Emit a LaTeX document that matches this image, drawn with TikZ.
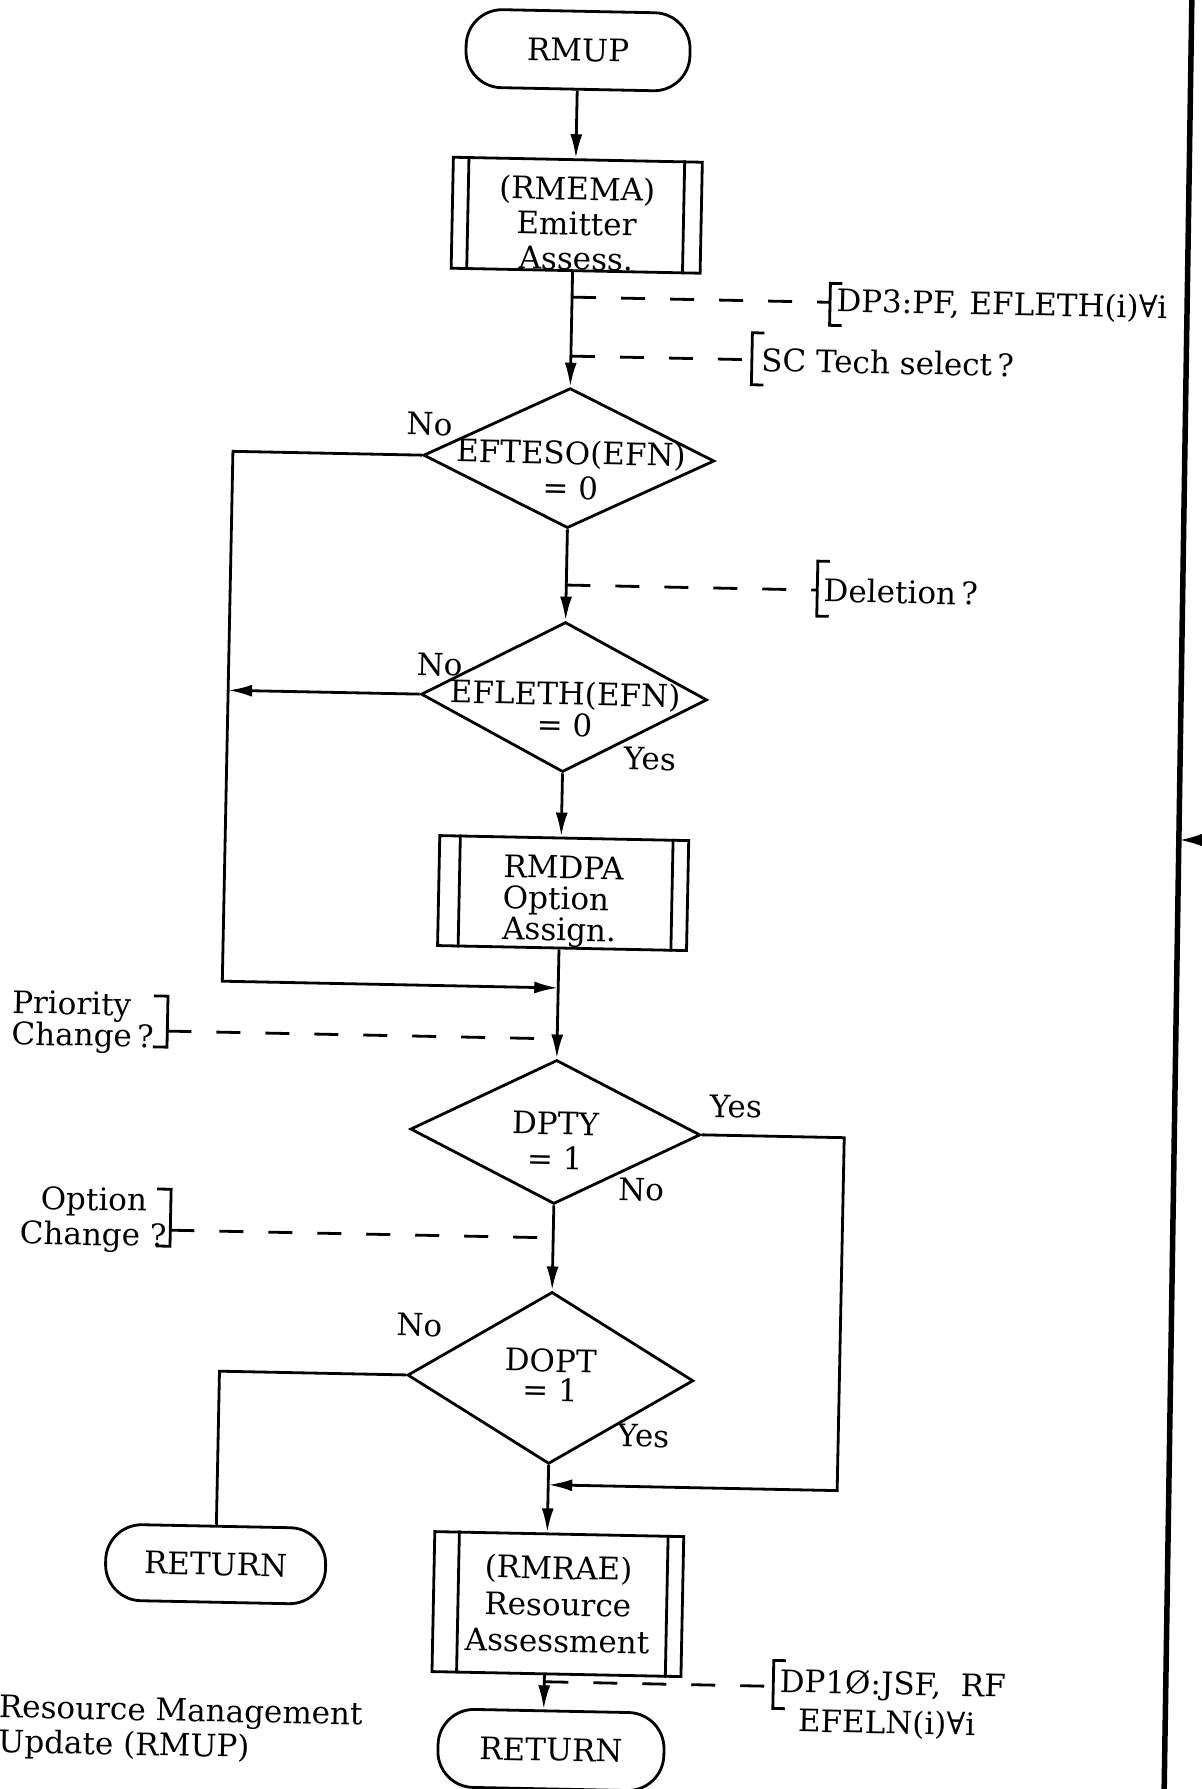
\documentclass[tikz,border=0pt]{standalone}
\usepackage{fontspec}
\setmainfont{DejaVu Serif}
\usepackage{tikz}
\usetikzlibrary{arrows.meta,shapes.geometric}
\tikzset{
    term/.style={draw, rounded corners=36pt, minimum width=224pt, minimum height=78pt}, % start and return ovals
    proc/.style={draw, minimum width=249pt, minimum height=110pt, align=center, inner sep=0pt}, % predefined process boxes
    decision/.style={draw, diamond, minimum width=290pt, minimum height=144pt, inner sep=0pt}, % decision diamonds
    dtext/.style={align=center, inner sep=0pt}, % text inside a diamond
    flow/.style={-{Latex[length=24pt, width=12pt]}}, % flow arrows
    note/.style={dash pattern=on 24pt off 25pt}, % dashed links to the notes
    tag/.style={anchor=west, align=left, inner sep=0pt} % note texts
}

\begin{document}
\begin{tikzpicture}[x=1pt, y=-1pt, line width=2.8pt, font={\fontsize{31}{35}\selectfont}]
    \useasboundingbox (0,0) rectangle (1202,1789);

    \begin{scope}[rotate around={-1.15:(560,900)}, transform shape]
        % main column
        \node[term] (rmup) at (561,50) {RMUP};
        \node[proc, minimum height=111pt] (emit) at (563,215) {\rule{0pt}{40pt}(RMEMA)\\Emitter\\Assess.};
        \node[decision, minimum width=291pt, minimum height=140pt] (d1) at (560,458) {};
        \node[dtext] (d1t) at (562,470) {EFTESO(EFN)\\= 0};
        \node[decision, minimum width=286pt, minimum height=150pt] (d2) at (560,697) {};
        \node[dtext, font={\fontsize{31}{31}\selectfont}] (d2t) at (561,709) {EFLETH(EFN)\\= 0};
        \node[proc, align=left, font={\fontsize{31}{31}\selectfont}] (assign) at (563,893) {\rule{0pt}{40pt}RMDPA\\Option\\Assign.};
        \node[decision] (d3) at (560,1132) {};
        \node[dtext] (d3t) at (560,1141) {DPTY\\= 1};
        \node[decision, minimum width=286pt, minimum height=172pt] (d4) at (560,1378) {};
        \node[dtext, font={\fontsize{31}{29}\selectfont}] (d4t) at (560,1375) {DOPT\\= 1};
        \node[proc, minimum height=140pt, font={\fontsize{31}{36.5}\selectfont}] (rsrc) at (572,1604) {(RMRAE)\\Resource\\Assessment};
        \node[term, minimum width=226pt] (ret2) at (568,1750) {RETURN};
        \node[term, minimum width=220pt, minimum height=76pt] (ret1) at (229,1571) {RETURN};

        % double side lines of the process boxes
        \foreach \b/\l/\r in {emit/17/19, assign/22/17, rsrc/26/17} {
            \draw ([xshift=\l pt]\b.north west) -- ([xshift=\l pt]\b.south west);
            \draw ([xshift=-\r pt]\b.north east) -- ([xshift=-\r pt]\b.south east);
        }

        % flow
        \draw[flow] (rmup.south) -- (rmup.south |- emit.north);
        \draw[flow] (emit.south -| d1.north) -- (d1.north);
        \draw[flow] (d1.south) -- (d2.north);
        \draw[flow] (d2.south) -- (d2.south |- assign.north);
        \draw[flow] (d3.north |- assign.south) -- (d3.north);
        \draw[flow] (d3.south) -- (d4.north);
        \draw[flow] (d4.south) -- (d4.south |- rsrc.north);
        \draw[flow] (d4.south |- rsrc.south) -- (d4.south |- ret2.north);

        % branches
        \coordinate (loopL) at (224,458);
        \coordinate (mergeA) at (560,988);
        \coordinate (loopR) at (849,1132);
        \coordinate (mergeB) at (560,1485);
        \draw[flow] (d1.west) -- (loopL) |- (mergeA);
        \draw[flow] (d2.west) -- (d2.west -| loopL);
        \draw[flow] (d3.east) -- (loopR) |- (mergeB);
        \draw (d4.west) -| (ret1.north);

        % notes
        \coordinate (b1) at (818,297);
        \coordinate (b2) at (741,356);
        \coordinate (b3) at (811,585);
        \coordinate (b4) at (170,1039);
        \coordinate (b5) at (177,1238);
        \coordinate (b6) at (789,1682);
        \draw[note] (b1 -| d1.north) -- (b1);
        \draw[note] (b2 -| d1.north) -- (b2);
        \draw[note] (d2.north |- b3) -- (b3);
        \draw[note] (b4) -- (b4 -| d3.north);
        \draw[note] (b5) -- (b5 -| d4.north);
        \draw[note] (b6 -| d4.south) -- (b6);
        \foreach \bx/\ya/\yb/\t in {818/278/320/12, 741/329/381/12, 811/556/611/12, 789/1656/1704/12, 170/1004/1055/-14, 177/1197/1254/-14}
            \draw ({\bx+(\t)},\ya) -- (\bx,\ya) -- (\bx,\yb) -- ({\bx+(\t)},\yb);

        \node[tag] (dp3) at (823,297) {DP3:PF, EFLETH(i)∀i};
        \node[tag] (sct) at (749,356) {SC Tech select\,?};
        \node[tag] (del) at (816,585) {Deletion\,?};
        \node[tag, font={\fontsize{31}{27}\selectfont}] (prio) at (13,1032) {Priority\\Change\,?};
        \node[dtext] (optc) at (100,1229) {Option\\Change ?};
        \node[tag, font={\fontsize{31}{39}\selectfont}] (dp10) at (794,1698) {DP1Ø:JSF,\ \ RF\\\hspace*{19pt}EFELN(i)∀i};
        \node[tag] (title) at (14,1738) {Resource Management\\Update (RMUP)};

        % decision labels
        \foreach \lx/\ly/\lt [count=\i] in {420/427/No, 435/667/No, 647/757/Yes, 740/1103/Yes, 647/1188/No, 428/1328/No, 654/1434/Yes}
            \node (lab\i) at (\lx,\ly) {\lt};
    \end{scope}

    % page edge
    \coordinate (edgeT) at (1192,-10);
    \coordinate (edgeB) at (1164,1800);
    \draw[line width=5.5pt] (edgeT) -- (edgeB);
    \coordinate (inR) at (1215,840);
    \coordinate (inL) at (1180,840);
    \draw[-{Latex[length=26pt, width=16pt]}] (inR) -- (inL);
\end{tikzpicture}
\end{document}
